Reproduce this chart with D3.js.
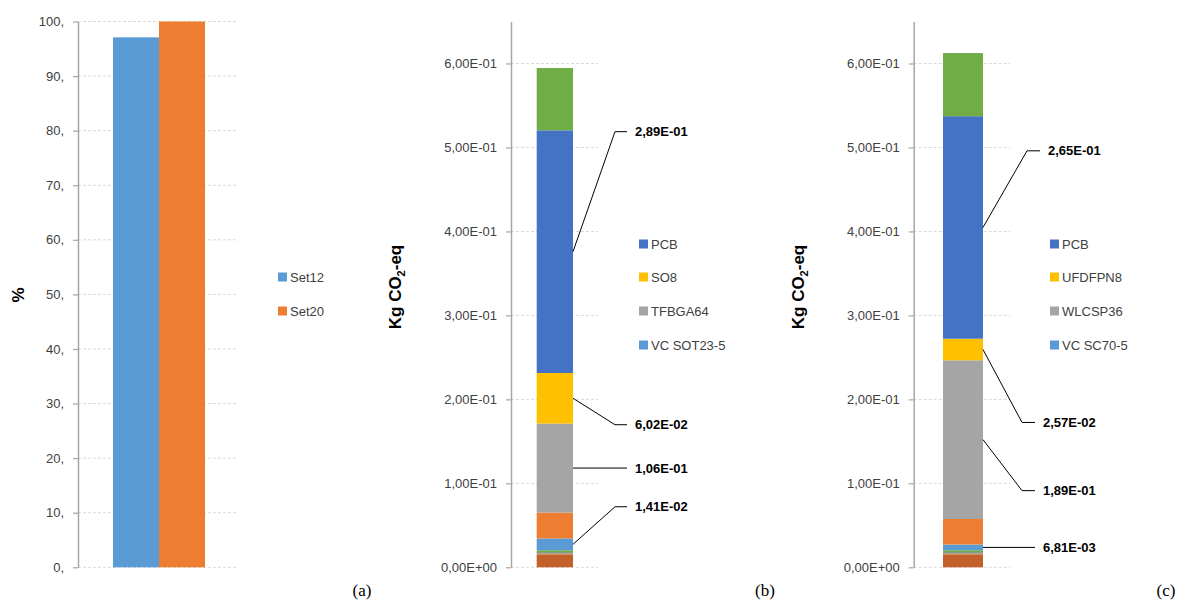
<!DOCTYPE html>
<html>
<head>
<meta charset="utf-8">
<script src="https://cdn.jsdelivr.net/npm/d3@7"></script>
<style>
  body { margin: 0; background: #fff; }
  svg { display: block; font-family: "Liberation Sans", Arial, sans-serif; }
</style>
</head>
<body>
<svg id="chart"></svg>
<script>
// ---- data ----
var setNames = ["Set12", "Set20"];
var setValues = [97.1, 100];
var pctTicks = [0, 10, 20, 30, 40, 50, 60, 70, 80, 90, 100];

// stacked components, bottom to top
var stackKeys = ["k1", "k2", "k3", "k4", "vc", "k6", "pkgB", "pkgA", "pcb", "k10"];
var valuesB = [0.0155, 0.0018, 0.0006, 0.0024, 0.0141, 0.0308, 0.106, 0.0602, 0.289, 0.0742];
var valuesC = [0.0155, 0.0018, 0.0006, 0.0024, 0.00681, 0.0304, 0.189, 0.0257, 0.265, 0.0752];
var co2Ticks = [0, 0.1, 0.2, 0.3, 0.4, 0.5, 0.6];

var legendB = ["PCB", "SO8", "TFBGA64", "VC SOT23-5"];
var legendC = ["PCB", "UFDFPN8", "WLCSP36", "VC SC70-5"];
var labelledKeys = ["pcb", "pkgA", "pkgB", "vc"];

// ---- styles / layout ----
var stackColors = ["#C4612A", "#B9A27E", "#264478", "#70AD47", "#5B9BD5", "#ED7D31", "#A5A5A5", "#FFC000", "#4472C4", "#70AD47"];
var setColors = ["#5B9BD5", "#ED7D31"];
var axisColor = "#A6A6A6", gridColor = "#D9D9D9", textColor = "#404040";
var yBottom = 567.3, yTop = 21.5;

var svg = d3.select("#chart").attr("width", 1179).attr("height", 601);
svg.append("rect").attr("width", 1179).attr("height", 601).attr("fill", "#fff");

function fmtE(v) {
    if (v === 0) return "0,00E+00";
    var e = Math.floor(Math.log10(v) + 1e-9);
    var m = v / Math.pow(10, e);
    var s = Math.abs(e) < 10 ? "0" + Math.abs(e) : "" + Math.abs(e);
    return m.toFixed(2).replace(".", ",") + "E" + (e < 0 ? "-" : "+") + s;
}

function drawAxis(g, y, ticks, axisX, gridEnd, fmt) {
    g.append("g").selectAll("line")
        .data(ticks)
        .enter().append("line")
        .attr("x1", axisX).attr("x2", gridEnd)
        .attr("y1", function (d) { return y(d); })
        .attr("y2", function (d) { return y(d); })
        .attr("stroke", gridColor)
        .attr("stroke-dasharray", "3,2");

    var ax = g.append("g")
        .attr("transform", "translate(" + axisX + ",0)")
        .call(d3.axisLeft(y).tickValues(ticks).tickFormat(fmt).tickSize(5).tickSizeOuter(0).tickPadding(9));
    ax.select(".domain").attr("stroke", axisColor).attr("stroke-width", 1.5);
    ax.selectAll(".tick line").attr("stroke", axisColor).attr("stroke-width", 1.2);
    ax.selectAll(".tick text")
        .attr("fill", textColor)
        .style("font-size", "13px")
        .style("font-family", "'Liberation Sans', Arial, sans-serif");
    return ax;
}

function drawLegend(g, names, colors, sqX, ys) {
    var lg = g.append("g").selectAll("g")
        .data(names)
        .enter().append("g")
        .attr("transform", function (d, i) { return "translate(" + sqX + "," + ys[i] + ")"; });
    lg.append("rect")
        .attr("x", 0).attr("y", -4.5).attr("width", 9).attr("height", 9)
        .attr("fill", function (d, i) { return colors[i]; });
    lg.append("text")
        .attr("x", 12).attr("dy", "0.35em")
        .attr("fill", textColor)
        .style("font-size", "13px")
        .text(function (d) { return d; });
}

function yTitle(g, x, yc) {
    var t = g.append("text")
        .attr("transform", "translate(" + x + "," + yc + ") rotate(-90)")
        .attr("text-anchor", "middle")
        .attr("fill", "#000")
        .style("font-size", "17px")
        .style("font-weight", "bold");
    t.append("tspan").text("Kg CO");
    t.append("tspan").attr("dy", 4).style("font-size", "11px").text("2");
    t.append("tspan").attr("dy", -4).text("-eq");
}

function panelTag(x, s) {
    svg.append("text")
        .attr("x", x).attr("y", 596)
        .attr("text-anchor", "middle")
        .style("font-family", "'Liberation Serif', 'Times New Roman', serif")
        .style("font-size", "17px")
        .text(s);
}

// ---- panel (a) ----
var ga = svg.append("g");
var ya = d3.scaleLinear().domain([0, 100]).range([yBottom, yTop]);
var xa = d3.scaleBand().domain(setNames).range([113, 205]).paddingInner(0);
drawAxis(ga, ya, pctTicks, 78, 238, function (d) { return d + ","; });
ga.selectAll("rect.bar")
    .data(setNames)
    .enter().append("rect")
    .attr("class", "bar")
    .attr("x", function (d) { return xa(d); })
    .attr("width", xa.bandwidth())
    .attr("y", function (d, i) { return ya(setValues[i]); })
    .attr("height", function (d, i) { return ya(0) - ya(setValues[i]); })
    .attr("fill", function (d, i) { return setColors[i]; });
drawLegend(ga, setNames, setColors, 278, [277, 311]);
ga.append("text")
    .attr("transform", "translate(18,295) rotate(-90)")
    .attr("text-anchor", "middle")
    .attr("dy", "0.35em")
    .style("font-size", "17px")
    .style("font-weight", "bold")
    .text("%");
panelTag(362, "(a)");

// ---- stacked panels (b), (c) ----
function stackedPanel(opt) {
    var g = svg.append("g");
    var y = d3.scaleLinear().domain([0, 0.65]).range([yBottom, yTop]);
    drawAxis(g, y, co2Ticks, opt.axisX, opt.gridEnd, fmtE);

    var row = {};
    stackKeys.forEach(function (k, i) { row[k] = opt.values[i]; });
    var series = d3.stack().keys(stackKeys)([row]);

    g.selectAll("rect.seg")
        .data(series)
        .enter().append("rect")
        .attr("class", "seg")
        .attr("x", opt.barX[0])
        .attr("width", opt.barX[1] - opt.barX[0])
        .attr("y", function (s) { return y(s[0][1]); })
        .attr("height", function (s) { return y(s[0][0]) - y(s[0][1]); })
        .attr("fill", function (s, i) { return stackColors[i]; });

    // leader lines + value labels
    labelledKeys.forEach(function (k, j) {
        var s = series[stackKeys.indexOf(k)];
        var yMid = y((s[0][0] + s[0][1]) / 2);
        var yLab = opt.labelAt[j] == null ? yMid : y(opt.labelAt[j]);
        var bx = opt.barX[1], sh = opt.labelShift[j];
        g.append("path")
            .attr("d", "M" + bx + "," + yMid + "L" + (bx + opt.elbow + sh) + "," + yLab + "L" + (bx + opt.lineEnd + sh) + "," + yLab)
            .attr("fill", "none")
            .attr("stroke", "#000")
            .attr("stroke-width", 1);
        g.append("text")
            .attr("x", bx + opt.textX + sh)
            .attr("y", yLab)
            .attr("dy", "0.35em")
            .style("font-size", "13px")
            .style("font-weight", "bold")
            .text(fmtE(row[k]));
    });

    var legColors = labelledKeys.map(function (k) { return stackColors[stackKeys.indexOf(k)]; });
    drawLegend(g, opt.legend, legColors, opt.legendX, [244, 277, 311, 345]);
    yTitle(g, opt.titleX, 287);
    panelTag(opt.tagX, opt.tag);
}

stackedPanel({
    values: valuesB, legend: legendB, axisX: 511, gridEnd: 598, barX: [536.7, 573],
    labelAt: [0.5188, 0.1698, null, 0.0721], labelShift: [0, 0, 0, 0],
    elbow: 42, lineEnd: 54, textX: 62, legendX: 639, titleX: 401, tagX: 765, tag: "(b)"
});
stackedPanel({
    values: valuesC, legend: legendC, axisX: 913.7, gridEnd: 1010, barX: [943, 983],
    labelAt: [0.496, 0.1725, 0.0913, null], labelShift: [5, 0, 0, 0],
    elbow: 39, lineEnd: 52, textX: 60, legendX: 1050, titleX: 804, tagX: 1166, tag: "(c)"
});
</script>
</body>
</html>
